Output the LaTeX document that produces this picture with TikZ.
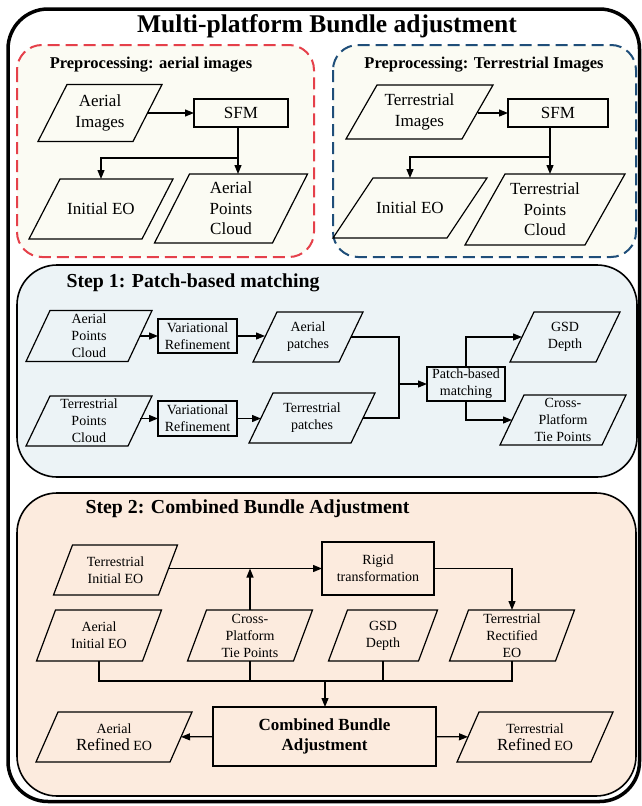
\documentclass[tikz,border=0pt]{standalone}
\usepackage{fontspec}
\setmainfont{Liberation Serif}
\usetikzlibrary{arrows.meta}
\definecolor{prefill}{RGB}{251,251,243}
\definecolor{onefill}{RGB}{236,243,246}
\definecolor{twofill}{RGB}{252,235,222}
\definecolor{redash}{RGB}{229,64,74}
\definecolor{bluedash}{RGB}{31,78,121}
\newcommand{\fsz}[2]{\fontsize{#1}{#2}\selectfont}
\tikzset{
  data/.style={rectangle,inner sep=0pt,outer sep=0pt,align=center,
    append after command={\pgfextra{\draw[line width=1.2pt]
      ([xshift=-#1pt]\tikzlastnode.south west) -- ([xshift=-#1pt]\tikzlastnode.south east)
      -- ([xshift=#1pt]\tikzlastnode.north east) -- ([xshift=#1pt]\tikzlastnode.north west) -- cycle;}}},
  data/.default=15,
  proc/.style={rectangle,draw,line width=1.2pt,inner sep=0pt,outer sep=0pt,align=center},
  arr/.style={line width=1.2pt,-{Triangle[length=9pt,width=7pt]}},
  link/.style={line width=1.2pt},
  big/.style={font=\fsz{17}{20.5}},
  small/.style={font=\fsz{14}{17}},
  prepanel/.style={line width=2pt,dash pattern=on 12pt off 6pt,fill=prefill,rounded corners=25pt},
  steppanel/.style={line width=1.6pt,rounded corners=40pt}
}
\begin{document}
\begin{tikzpicture}[x=1pt,y=-1pt]
\useasboundingbox (0,0) rectangle (642,806);
% panels
\draw[prepanel,draw=redash] (17,45) rectangle (314,257);
\draw[prepanel,draw=bluedash] (333,45) rectangle (636,257);
\draw[steppanel,fill=onefill] (17,265) rectangle (637,477);
\draw[steppanel,fill=twofill] (17,493) rectangle (636,796);
\draw[line width=3.5pt,rounded corners=40pt] (8,9) rectangle (639.5,801.5);
\node[anchor=base,font=\bfseries\fsz{25.5}{28}] (title) at (327,32) {Multi-platform Bundle adjustment};
\node[anchor=base,font=\bfseries\fsz{16.5}{19}] (preA) at (151,68) {Preprocessing: aerial images};
\node[anchor=base,font=\bfseries\fsz{16.5}{19}] (preT) at (484,68) {Preprocessing: Terrestrial Images};
\node[anchor=base west,font=\bfseries\fsz{19.8}{22}] (stepone) at (63,287) {Step 1: Patch-based matching};
\node[anchor=base west,font=\bfseries\fsz{19.8}{22}] (steptwo) at (82,513) {Step 2: Combined Bundle Adjustment};

% preprocessing, aerial
\node[data=14.5,big,minimum width=95,minimum height=57] (aimg) at (100,113) {Aerial\\Images};
\node[proc,big,minimum width=94,minimum height=28] (sfmA) at (241,113) {SFM};
\node[data=15.5,big,minimum width=113,minimum height=60] (ieoA) at (101,209) {Initial EO};
\node[data=17.5,big,minimum width=118,minimum height=69] (apcA) at (231,208.5) {Aerial\\Points\\Cloud};
\coordinate (brA) at (238,158);
\draw[arr] (aimg) -- (sfmA);
\draw[arr] (brA |- sfmA.south) -- (brA |- apcA.north);
\draw[arr] (brA) -| (ieoA.north);

% preprocessing, terrestrial
\node[data=15.5,big,minimum width=116,minimum height=54] (timg) at (419.5,112) {Terrestrial\\Images};
\node[proc,big,minimum width=100,minimum height=28] (sfmT) at (558,113) {SFM};
\node[data=20,big,minimum width=114,minimum height=60] (ieoT) at (410,208) {Initial EO};
\node[data=20,big,minimum width=120,minimum height=71] (tpcT) at (545,209.5) {Terrestrial\\Points\\Cloud};
\coordinate (brT) at (550,157);
\draw[arr] (timg.east |- sfmT) -- (sfmT);
\draw[arr] (brT |- sfmT.south) -- (brT |- tpcT.north);
\draw[arr] (brT) -| (ieoT.north);

% step 1
\node[data=12,small,minimum width=102,minimum height=51] (apc1) at (89,336) {Aerial\\Points\\Cloud};
\node[proc,small,minimum width=79,minimum height=34] (var1) at (197.5,336) {Variational\\Refinement};
\node[data=12,small,minimum width=86,minimum height=50] (apt1) at (308,337) {Aerial\\patches};
\node[data=12,small,minimum width=102,minimum height=50] (tpc1) at (89,421) {Terrestrial\\Points\\Cloud};
\node[proc,small,minimum width=79,minimum height=35] (var2) at (197.5,418.5) {Variational\\Refinement};
\node[data=12,small,minimum width=102,minimum height=50] (tpt1) at (312,418) {Terrestrial\\patches};
\node[proc,small,minimum width=78,minimum height=34] (pbm) at (466,384) {Patch-based\\matching};
\node[data=12,small,minimum width=86,minimum height=50] (gsd1) at (565,337) {GSD\\Depth};
\node[data=12,small,minimum width=102,minimum height=50] (ctp1) at (563,420) {Cross-\\Platform\\Tie Points};
\coordinate (jn) at (399,384);
\draw[arr] (apc1.east |- var1) -- (var1); \draw[arr] (var1) -- (var1 -| apt1.west);
\draw[arr] (tpc1.east |- var2) -- (var2); \draw[arr] (var2) -- (var2 -| tpt1.west);
\draw[link] (apt1.east) -| (jn); \draw[link] (tpt1.east) -| (jn);
\draw[arr] (jn) -- (pbm);
\draw[arr] (pbm.north) |- (gsd1);
\draw[arr] (pbm.south) |- (ctp1);

% step 2
\node[data=9.5,small,minimum width=105,minimum height=50] (tie2) at (115.5,570) {Terrestrial\\Initial EO};
\node[proc,small,minimum width=112,minimum height=53] (rigid) at (378,568.5) {Rigid\\transformation};
\node[data=9.5,small,minimum width=106,minimum height=51] (aie2) at (99,635.5) {Aerial\\Initial EO};
\node[data=9.5,small,minimum width=106,minimum height=51] (ctp2) at (250,635.5) {Cross-\\Platform\\Tie Points};
\node[data=9.5,small,minimum width=90,minimum height=51] (gsd2) at (383,635.5) {GSD\\Depth};
\node[data=9.5,small,minimum width=106,minimum height=51] (tre2) at (512,635.5) {Terrestrial\\Rectified\\EO};
\node[proc,font=\bfseries\fsz{17}{20},minimum width=223,minimum height=59] (cba) at (324.5,736.5) {Combined Bundle\\Adjustment};
\node[data=11,small,minimum width=134,minimum height=50] (are2) at (114,737) {Aerial\\{\fsz{17}{17}Refined} EO};
\node[data=11,small,minimum width=134,minimum height=50] (trf2) at (535,737) {Terrestrial\\{\fsz{17}{17}Refined} EO};
\coordinate (bus) at (325,681);
\draw[arr] (tie2.east |- rigid) -- (rigid);
\draw[arr] (ctp2.north) -- (ctp2.north |- rigid);
\draw[arr] (rigid.east) -| (tre2.north);
\draw[link] (aie2.south) |- (bus -| tre2.south) -- (tre2.south);
\draw[link] (ctp2.south) -- (ctp2.south |- bus); \draw[link] (gsd2.south) -- (gsd2.south |- bus);
\draw[arr] (bus) -- (bus |- cba.north);
\draw[arr] (cba) -- (are2); \draw[arr] (cba) -- (trf2);
\end{tikzpicture}
\end{document}
